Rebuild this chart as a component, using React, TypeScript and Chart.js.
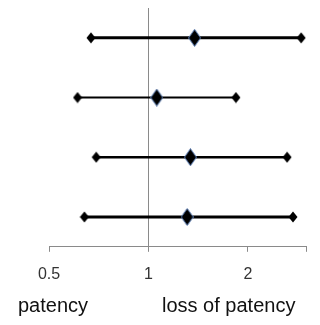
import React, { useEffect, useRef } from "react";
import { Chart, registerables } from "chart.js";

Chart.register(...registerables);

// Data (odds ratios, log scale)
const rows = [1, 2, 3, 4];
const estimates = [1.38, 1.06, 1.34, 1.31];
const lowerCI = [0.67, 0.61, 0.695, 0.64];
const upperCI = [2.9, 1.84, 2.63, 2.74];
const tickValues = [0.5, 1, 2, 3];
const tickLabels = ["0.5", "1", "2", ""];
const leftLabel = "patency";
const rightLabel = "loss of patency";

const lineWidths = [3, 2, 2.5, 3];

function diamond(w: number, h: number, fill: string, stroke?: string) {
  const c = document.createElement("canvas");
  c.width = w;
  c.height = h;
  const g = c.getContext("2d")!;
  g.beginPath();
  g.moveTo(w / 2, 0.5);
  g.lineTo(w - 0.5, h / 2);
  g.lineTo(w / 2, h - 0.5);
  g.lineTo(0.5, h / 2);
  g.closePath();
  g.fillStyle = fill;
  g.fill();
  if (stroke) {
    g.strokeStyle = stroke;
    g.lineWidth = 1;
    g.stroke();
  }
  return c;
}

export default function App() {
  const ref = useRef<HTMLCanvasElement | null>(null);

  useEffect(() => {
    document.body.style.margin = "0";
    const endMarker = diamond(10, 12, "#000");
    const midMarker = diamond(13, 18, "#000", "#5b7fb8");

    const datasets = rows.map((r, i) => ({
      label: "row " + r,
      data: [
        { x: lowerCI[i], y: r },
        { x: estimates[i], y: r },
        { x: upperCI[i], y: r },
      ],
      showLine: true,
      borderColor: "#000",
      backgroundColor: "#000",
      borderWidth: lineWidths[i],
      pointStyle: (ctx: any) => (ctx.dataIndex === 1 ? midMarker : endMarker),
      pointRadius: 5,
    }));

    const labelsPlugin = {
      id: "bottomLabels",
      afterDraw(chart: any) {
        const c = chart.ctx;
        c.save();
        c.font = '20px "Liberation Sans", Arial, sans-serif';
        c.fillStyle = "#111";
        c.textBaseline = "alphabetic";
        c.textAlign = "left";
        c.fillText(leftLabel, 18, 312);
        c.fillText(rightLabel, 162, 312);
        c.restore();
      },
    };

    const chart = new Chart(ref.current!, {
      type: "scatter",
      data: { datasets },
      options: {
        animation: false,
        responsive: false,
        maintainAspectRatio: false,
        layout: { padding: { left: 49, right: 14, top: 8, bottom: 28 } },
        plugins: { legend: { display: false }, tooltip: { enabled: false } },
        scales: {
          x: {
            type: "logarithmic",
            min: 0.5,
            max: 3,
            afterBuildTicks(axis: any) {
              axis.ticks = tickValues.map((v) => ({ value: v }));
            },
            border: { display: true, color: "#8a8a8a", width: 1 },
            grid: {
              drawOnChartArea: true,
              drawTicks: true,
              tickLength: 5,
              color: (ctx: any) => (ctx.tick && ctx.tick.value === 1 ? "#8a8a8a" : "rgba(0,0,0,0)"),
              tickColor: "#8a8a8a",
              lineWidth: 1,
            },
            ticks: {
              autoSkip: false,
              maxRotation: 0,
              padding: 13,
              color: "#333",
              font: { family: '"Liberation Sans", Arial, sans-serif', size: 16 },
              callback: (_v: any, idx: number) => tickLabels[idx],
            },
          },
          y: {
            type: "linear",
            display: false,
            reverse: true,
            min: 0.5,
            max: 4.5,
          },
        },
      },
      plugins: [labelsPlugin],
    });
    return () => chart.destroy();
  }, []);

  return (
    <div style={{ position: "absolute", left: 0, top: 0, width: 320, height: 325 }}>
      <canvas ref={ref} width={320} height={325} style={{ width: 320, height: 325 }} />
    </div>
  );
}
